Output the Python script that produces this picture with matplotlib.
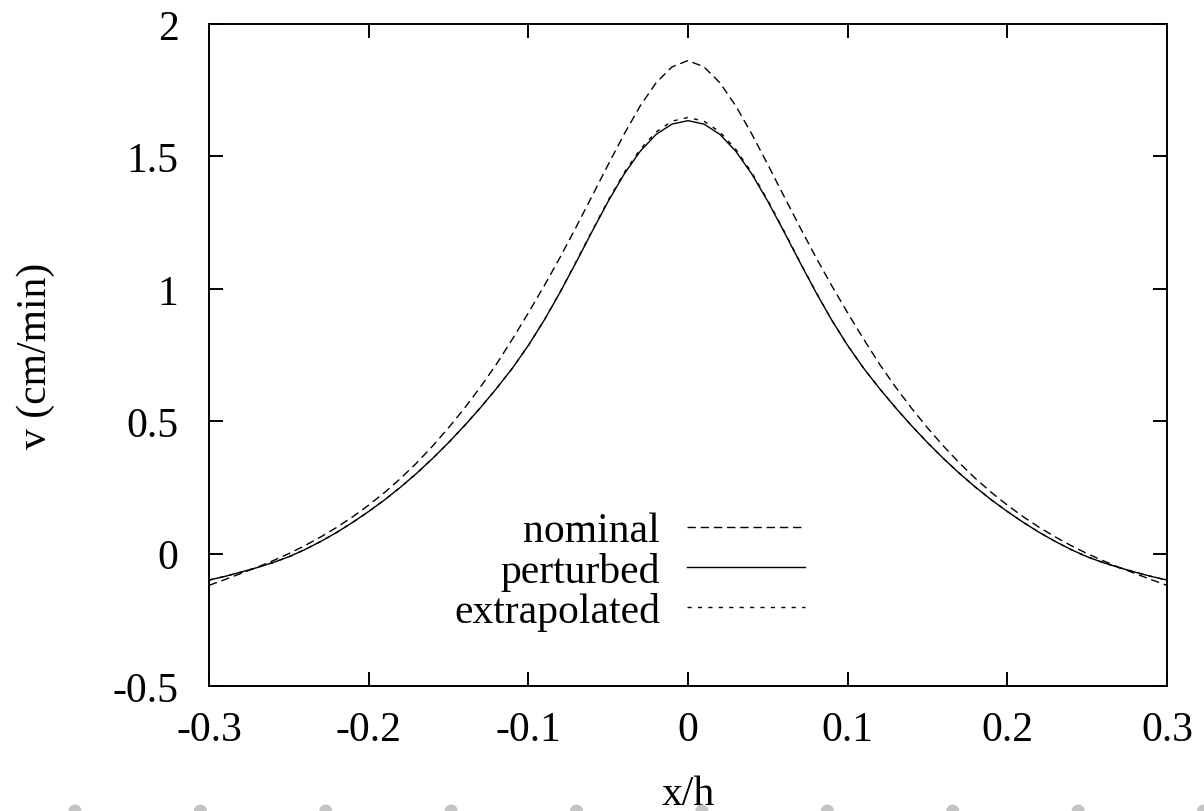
import numpy as np
import matplotlib
matplotlib.use("Agg")
import matplotlib.pyplot as plt
from matplotlib.patches import Circle

plt.rcParams['font.family'] = ['Liberation Serif', 'DejaVu Serif']
plt.rcParams['axes.unicode_minus'] = False
plt.rcParams['lines.scale_dashes'] = False

# velocity profiles (symmetric about x/h = 0)
x_half = [0.00, 0.01, 0.02, 0.03, 0.04, 0.05, 0.06, 0.07, 0.08, 0.09,
          0.10, 0.11, 0.12, 0.13, 0.14, 0.15, 0.16, 0.17, 0.18, 0.19,
          0.20, 0.21, 0.22, 0.23, 0.24, 0.25, 0.26, 0.27, 0.28, 0.29, 0.30]
nominal_half = [1.862, 1.838, 1.778, 1.690, 1.584, 1.469, 1.351, 1.234, 1.120, 1.012,
                0.909, 0.810, 0.715, 0.629, 0.549, 0.475, 0.406, 0.342, 0.284, 0.231,
                0.183, 0.139, 0.099, 0.063, 0.030, 0.000, -0.027, -0.052, -0.075, -0.098, -0.120]
perturbed_half = [1.635, 1.622, 1.583, 1.519, 1.433, 1.330, 1.217, 1.101, 0.988, 0.882,
                  0.786, 0.700, 0.623, 0.551, 0.483, 0.419, 0.359, 0.303, 0.251, 0.203,
                  0.159, 0.118, 0.080, 0.046, 0.015, -0.012, -0.034, -0.053, -0.070, -0.086, -0.100]
extrap_half = [1.647, 1.633, 1.592, 1.526, 1.438, 1.334, 1.220, 1.103, 0.989, 0.882,
               0.786, 0.700, 0.623, 0.551, 0.483, 0.419, 0.359, 0.303, 0.251, 0.203,
               0.159, 0.118, 0.080, 0.046, 0.015, -0.012, -0.034, -0.053, -0.070, -0.086, -0.100]

# mirror to full profile
x = [-v for v in x_half[:0:-1]] + x_half
nominal = nominal_half[:0:-1] + nominal_half
perturbed = perturbed_half[:0:-1] + perturbed_half
extrapolated = extrap_half[:0:-1] + extrap_half

xticks = [-0.3, -0.2, -0.1, 0, 0.1, 0.2, 0.3]
xtick_labels = ['-0.3', '-0.2', '-0.1', '0', '0.1', '0.2', '0.3']
yticks = [-0.5, 0, 0.5, 1, 1.5, 2]
ytick_labels = ['-0.5', '0', '0.5', '1', '1.5', '2']

fs = 30
fig = plt.figure(figsize=(12.04, 8.12), dpi=100)
ax = fig.add_axes([209/1204, 125/812, 958/1204, 662/812])

ax.plot(x, nominal, color='k', lw=1.0, ls=(0, (6, 3.5)), label='nominal')
ax.plot(x, perturbed, color='k', lw=1.0, ls='-', label='perturbed')
ax.plot(x, extrapolated, color='k', lw=1.0, ls=(0, (3, 4.5)), label='extrapolated')

ax.set_xlim(-0.3, 0.3)
ax.set_ylim(-0.5, 2)
ax.set_xticks(xticks)
ax.set_xticklabels(xtick_labels)
ax.set_yticks(yticks)
ax.set_yticklabels(ytick_labels)
ax.tick_params(direction='in', length=10, width=1.4, top=True, right=True,
               labelsize=fs)
ax.tick_params(axis='x', pad=18)
ax.tick_params(axis='y', pad=22)
for s in ax.spines.values():
    s.set_linewidth(1.4)

ax.set_xlabel('x/h', fontsize=fs)
ax.set_ylabel('v (cm/min)', fontsize=fs)
ax.xaxis.set_label_coords(0.5, -0.133)
ax.yaxis.set_label_coords(-0.161, 0.5)

ax.legend(loc='upper right', bbox_to_anchor=(0.622, 0.263), frameon=False,
          markerfirst=False, fontsize=fs, handlelength=2.83, handletextpad=0.65,
          labelspacing=0.03, borderpad=0, borderaxespad=0)

# faint grey dots along the bottom edge of the page
for cx in np.arange(0.75, 12.1, 1.254):
    fig.patches.append(Circle((cx, 0.0), 0.065, transform=fig.dpi_scale_trans,
                              facecolor='#c4c4c4', edgecolor='none'))

fig.savefig('out.png', dpi=100)
